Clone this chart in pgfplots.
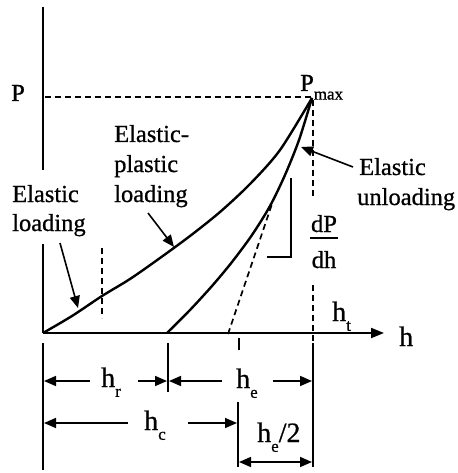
\documentclass[border=0pt]{standalone}
\usepackage{pgfplots}
\pgfplotsset{compat=1.18}
\usepackage{fontspec}
\setmainfont{Liberation Serif}[FakeBold=0.8]
\usetikzlibrary{arrows.meta}
\tikzset{lab/.style={font=\fontsize{24.5}{28}\selectfont,inner sep=0pt,anchor=base west},
dim/.style={font=\fontsize{28}{32}\selectfont,inner sep=0pt,anchor=base west},
ar/.style={line width=1.6pt,-{Triangle[length=12pt,width=10pt]}},
dl/.style={line width=1.7pt,dash pattern=on 6pt off 4pt},
ln/.style={line width=1.6pt}}
\newcommand\sub[1]{\raisebox{-0.35em}{\fontsize{17}{17}\selectfont #1}}
\begin{document}
\begin{tikzpicture}
\begin{axis}[scale only axis,width=457pt,height=473pt,xmin=0,xmax=457,ymin=0,ymax=473,
y dir=reverse,hide axis,clip=false]
\addplot[draw=none] coordinates {(0,0) (457,473)};
% axes (y axis broken by the label)
\addplot[black,line width=2pt,no marks] coordinates {(43,7) (43,170)};
\addplot[black,line width=2pt,no marks] coordinates {(43,244) (43,333)};
\addplot[black,line width=2pt,no marks,-{Triangle[length=13pt,width=10pt]}] coordinates {(43,333) (384,333)};
% loading curve
\addplot[black,line width=2.4pt,no marks,smooth] coordinates {(43,333) (72,316) (102,296) (130,279) (160,258) (190,236) (220,212) (250,184) (280,150) (312,98)};
% unloading curve
\addplot[black,line width=2.4pt,no marks,smooth] coordinates {(167,333) (190,310) (212,286) (232,262) (252,235) (270,206) (285,175) (299,140) (312,98)};
% tangent
\addplot[black,dl,no marks] coordinates {(228,334) (272,204)};
% guide lines
\addplot[black,dl,no marks] coordinates {(45,97) (312,97)};
\addplot[black,dl,no marks] coordinates {(313,100) (313,198)};
\addplot[black,dl,no marks] coordinates {(313,285) (313,343)};
\addplot[black,dl,no marks] coordinates {(102,248) (102,318)};

% labels
\node[lab] at (axis cs:11,101) {P};
\node[lab] at (axis cs:300,91) {P\sub{max}};
\node[lab] at (axis cs:114,142) {Elastic-};
\node[lab] at (axis cs:114,172) {plastic};
\node[lab] at (axis cs:114,202) {loading};
\node[lab] at (axis cs:12,202) {Elastic};
\node[lab] at (axis cs:12,231) {loading};
\node[lab] at (axis cs:359,175) {Elastic};
\node[lab] at (axis cs:357,205) {unloading};
\draw[ar] (axis cs:60,243) -- (axis cs:78,308);
\draw[ar] (axis cs:148,213) -- (axis cs:174,247);
\draw[ar] (axis cs:353,167) -- (axis cs:301,147);

% slope
\draw[ln] (axis cs:291,178) -- (axis cs:291,257) -- (axis cs:267,257);
\node[lab,anchor=base] at (axis cs:324,232) {dP};
\draw[line width=1.6pt] (axis cs:310,238) -- (axis cs:338,238);
\node[lab,anchor=base] at (axis cs:324,268) {dh};
\node[dim] at (axis cs:332,321) {h\sub{t}};
\node[dim] at (axis cs:399,346) {h};

% dimension lines
\draw[ln] (axis cs:43,343) -- (axis cs:43,470);
\draw[ln] (axis cs:168,343) -- (axis cs:168,392);
\draw[ln] (axis cs:313,343) -- (axis cs:313,467);
\draw[ln] (axis cs:238,402) -- (axis cs:238,467);
\draw[line width=1.2pt] (axis cs:239,338) -- (axis cs:239,350);
\draw[ar] (axis cs:90,381) -- (axis cs:44,381);
\draw[ar] (axis cs:138,381) -- (axis cs:167,381);
\node[dim] at (axis cs:101,387) {h\sub{r}};
\draw[ar] (axis cs:222,381) -- (axis cs:169,381);
\draw[ar] (axis cs:273,381) -- (axis cs:312,381);
\node[dim] at (axis cs:236,388) {h\sub{e}};
\draw[ar] (axis cs:128,423) -- (axis cs:44,423);
\draw[ar] (axis cs:188,423) -- (axis cs:237,423);
\node[dim] at (axis cs:144,430) {h\sub{c}};
\draw[line width=1.6pt,{Triangle[length=12pt,width=10pt]}-{Triangle[length=12pt,width=10pt]}] (axis cs:239,462) -- (axis cs:312,462);
\node[dim] at (axis cs:257,442) {h\sub{e}/2};
\end{axis}
\end{tikzpicture}
\end{document}
